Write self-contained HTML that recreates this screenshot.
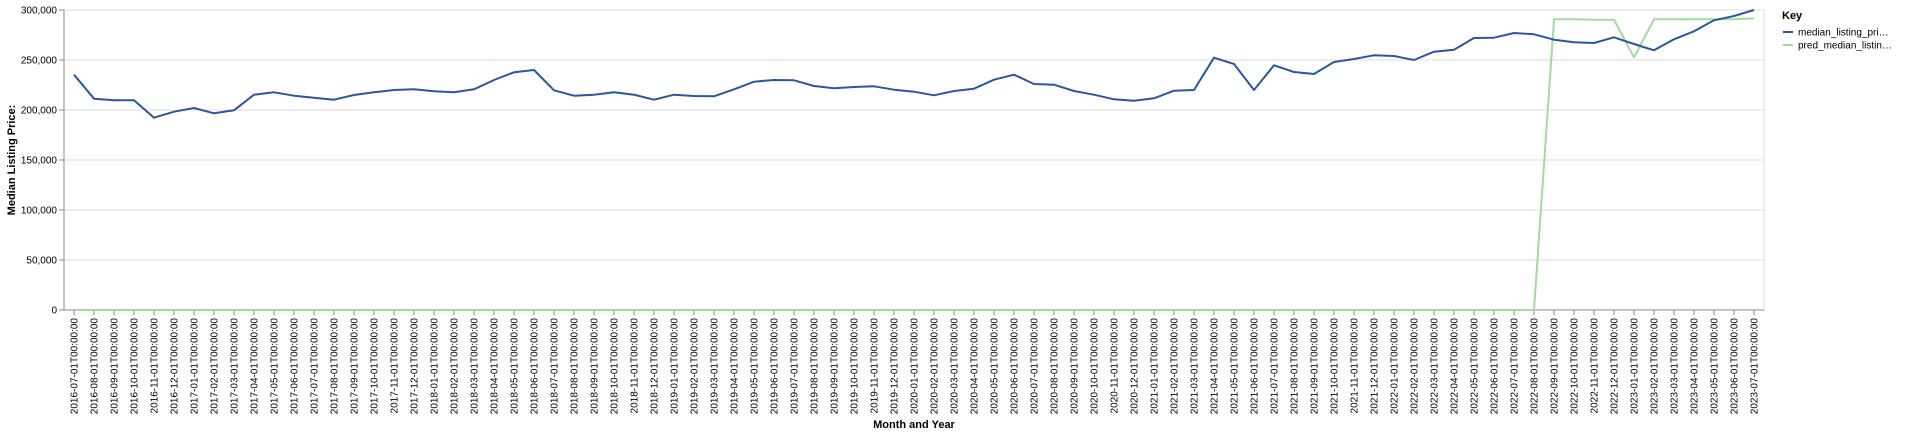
<!DOCTYPE html>
<html><head><meta charset="utf-8"><style>
body{margin:0;background:#fff;width:1920px;height:434px;overflow:hidden}
svg{font-family:"Liberation Sans",Arial,sans-serif}
</style></head><body>
<svg id="chart" width="1920" height="434" xmlns="http://www.w3.org/2000/svg"></svg>
<script>
const months = [];
for (let y = 2016, m = 7; !(y === 2023 && m === 8); ) {
  months.push(y + '-' + String(m).padStart(2, '0') + '-01T00:00:00');
  m++; if (m > 12) { m = 1; y++; }
}
const actualValues = [235.3,211.3,209.7,209.7,192.3,198.3,202,196.7,199.7,215.3,217.7,214.3,212.3,210.3,215,217.7,220,220.7,218.7,217.7,220.7,230,237.7,240,219.7,214.3,215.3,217.7,215.3,210.3,215.3,214,213.7,220.7,228.3,230,229.7,224,221.7,223,223.7,220.3,218.3,214.7,219,221.3,230.3,235.3,226,225.3,219,215.3,210.7,209.3,211.7,219.3,220,252.3,246,220,244.7,238,236,248,251,254.7,254,250,258.3,260.3,272,272.3,277,275.7,270.3,267.7,267,272.7,266,259.7,270.7,278.7,289.7,294,300].map(v => v * 1000);
const predValues = [0,0,0,0,0,0,0,0,0,0,0,0,0,0,0,0,0,0,0,0,0,0,0,0,0,0,0,0,0,0,0,0,0,0,0,0,0,0,0,0,0,0,0,0,0,0,0,0,0,0,0,0,0,0,0,0,0,0,0,0,0,0,0,0,0,0,0,0,0,0,0,0,0,0,290.7,290.7,290.3,290.3,252.7,290.7,290.7,290.7,290.7,290.7,291.7].map(v => v * 1000);
const yTicks = [0,50000,100000,150000,200000,250000,300000];
const seriesNames = ['median_listing_pri…','pred_median_listin…'];

const NS = 'http://www.w3.org/2000/svg';
const svg = document.getElementById('chart');
const L = 64, R = 1764, T = 10, B = 310, YMAX = 300000;
const step = (R - L) / months.length;
const xs = i => L + step / 2 + i * step;
const ys = v => B - (v / YMAX) * (B - T);
function el(tag, attrs, parent) {
  const e = document.createElementNS(NS, tag);
  for (const k in attrs) e.setAttribute(k, attrs[k]);
  (parent || svg).appendChild(e);
  return e;
}
const fmt = v => v.toLocaleString('en-US');

// grid + y ticks
yTicks.forEach(t => {
  const g = el('line', {x1: L, x2: R, y1: ys(t), y2: ys(t), stroke: '#ddd', 'stroke-width': 1});
  
  
  el('line', {x1: L - 5, x2: L, y1: ys(t), y2: ys(t), stroke: '#888'});
  const lab = el('text', {x: L - 7, y: ys(t) + 3.5, 'text-anchor': 'end', 'font-size': 10, fill: '#000'});
  lab.textContent = fmt(t);
  
  
});
el('line', {x1: R, x2: R, y1: T, y2: B, stroke: '#ddd'});
el('line', {x1: L, x2: L, y1: T, y2: B, stroke: '#888'});
el('line', {x1: L, x2: R, y1: B, y2: B, stroke: '#888'});

// x ticks
months.forEach((m, i) => {
  el('line', {x1: xs(i), x2: xs(i), y1: B, y2: B + 5, stroke: '#888'});
  const t = el('text', {transform: `translate(${xs(i) + 3.5},${B + 8}) rotate(-90)`, 'text-anchor': 'end', 'font-size': 10, fill: '#000'});
  t.textContent = m;
  
  
});

// lines
function drawLine(vals, color, name) {
  const d = vals.map((v, i) => (i ? 'L' : 'M') + xs(i).toFixed(2) + ',' + ys(v).toFixed(2)).join('');
  const p = el('path', {d, fill: 'none', stroke: color, 'stroke-width': 2, 'stroke-linejoin': 'round'});
  
  
}
drawLine(predValues, '#a0dc9a', 'pred-median-listing-price-line');
drawLine(actualValues, '#2a579f', 'median-listing-price-line');

// axis titles
const yt = el('text', {transform: 'translate(15,160) rotate(-90)', 'text-anchor': 'middle', 'font-size': 11, 'font-weight': 'bold', fill: '#000'});
yt.textContent = 'Median Listing Price:';


const xt = el('text', {x: (L + R) / 2, y: 428, 'text-anchor': 'middle', 'font-size': 11, 'font-weight': 'bold', fill: '#000'});
xt.textContent = 'Month and Year';



// legend
const kt = el('text', {x: 1782, y: 19, 'font-size': 11, 'font-weight': 'bold', fill: '#000'});
kt.textContent = 'Key';


const colors = ['#2a579f', '#a0dc9a'];
seriesNames.forEach((n, i) => {
  const g = el('g', {});
  
  
  el('line', {x1: 1783, x2: 1793, y1: 32 + i * 13, y2: 32 + i * 13, stroke: colors[i], 'stroke-width': 2}, g);
  const t = el('text', {x: 1798, y: 35.5 + i * 13, 'font-size': 10, fill: '#000'}, g);
  t.textContent = n;
});
</script>
</body></html>
